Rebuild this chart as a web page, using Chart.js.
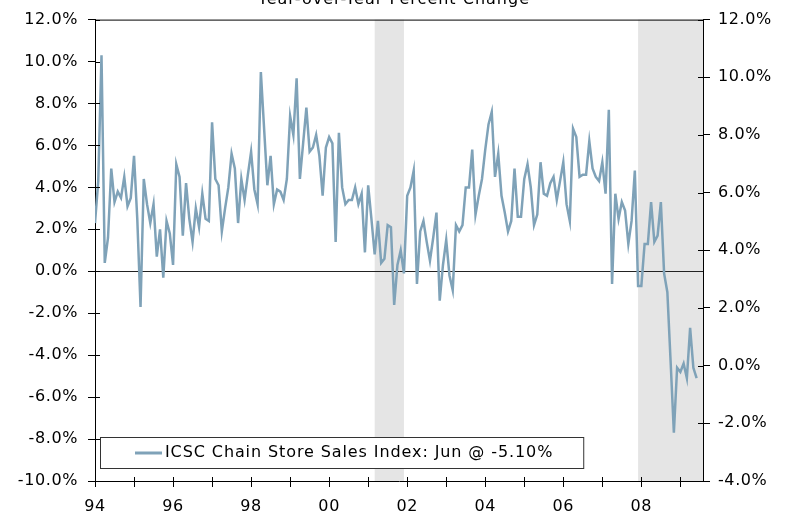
<!DOCTYPE html>
<html>
<head>
<meta charset="utf-8">
<script src="https://cdn.jsdelivr.net/npm/chart.js@4.4.0/dist/chart.umd.min.js"></script>
<style>
  html, body { margin: 0; padding: 0; background: #fff; }
</style>
</head>
<body>
<canvas id="icscChart" width="788" height="515"></canvas>
<script>
// monthly data, Jan 1994 .. Jun 2009
var startYear = 1994;
var chartTitle = "Year-over-Year Percent Change";
var seriesLabel = "ICSC Chain Store Sales Index: Jun @ -5.10%";

var yoyChange = [
  2.3, 4.3, 10.3, 0.4, 1.6, 4.9, 3.3, 3.8, 3.5, 4.5, 3.1, 3.5,     // 94
  5.5, 2.5, -1.7, 4.4, 3.2, 2.3, 3.2, 0.7, 2.0, -0.3, 2.4, 1.8,    // 95
  0.3, 5.1, 4.5, 1.7, 4.2, 2.5, 1.4, 3.0, 2.1, 3.7, 2.5, 2.4,      // 96
  7.1, 4.4, 4.1, 1.9, 3.0, 4.0, 5.6, 4.9, 2.3, 4.4, 3.4, 4.6,      // 97
  5.7, 3.9, 3.2, 9.5, 6.8, 4.1, 5.5, 3.2, 3.9, 3.8, 3.4, 4.4,      // 98
  7.4, 6.5, 9.2, 4.4, 6.1, 7.8, 5.7, 5.9, 6.5, 5.5, 3.6, 5.9,      // 99
  6.4, 6.1, 1.4, 6.6, 4.0, 3.2, 3.4, 3.4, 4.0, 3.2, 3.7, 0.9,      // 00
  4.1, 2.5, 0.8, 2.4, 0.4, 0.6, 2.2, 2.1, -1.6, 0.3, 1.0, -0.1,    // 01
  3.6, 4.0, 4.8, -0.6, 1.9, 2.4, 1.4, 0.5, 1.6, 2.8, -1.4, 0.3,    // 02
  1.5, -0.2, -0.9, 2.2, 1.9, 2.2, 4.0, 4.0, 5.8, 2.7, 3.6, 4.4,    // 03
  5.8, 7.0, 7.6, 4.5, 5.6, 3.6, 2.8, 1.9, 2.4, 4.9, 2.6, 2.6,      // 04
  4.4, 5.1, 4.0, 2.2, 2.7, 5.2, 3.7, 3.6, 4.2, 4.5, 3.4, 4.3,      // 05
  5.2, 3.2, 2.4, 6.8, 6.4, 4.5, 4.6, 4.6, 6.2, 4.9, 4.5, 4.3,      // 06
  5.2, 3.7, 7.7, -0.6, 3.7, 2.5, 3.3, 2.9, 1.3, 2.4, 4.8, -0.7,    // 07
  -0.7, 1.3, 1.3, 3.3, 1.4, 1.7, 3.3, -0.1, -1.0, -4.3, -7.7, -4.6, // 08
  -4.8, -4.4, -5.1, -2.7, -4.6, -5.1                               // 09
];

// shaded recessions (start, end) in years
var recessionStart = [2001 + 2 / 12, 2007 + 11 / 12];
var recessionEnd = [2001 + 11 / 12, 2009.58];

var yearLabels = ["94", "96", "98", "00", "02", "04", "06", "08"];
var leftTickMin = -10, leftTickMax = 12;
var rightTickMin = -4, rightTickMax = 12;

var points = yoyChange.map(function (v, i) {
  return { x: startYear + i / 12, y: v };
});

var lineColor = "#7fa2b8";
var fontSpec = { family: "'DejaVu Sans', Verdana, sans-serif", size: 16 };

function pct(v) { return v.toFixed(1) + "%"; }

var extras = {
  id: "extras",
  beforeDraw: function (chart) {
    var c = chart.ctx, a = chart.chartArea, xs = chart.scales.x;
    // widen the text a little, closer to Verdana
    c.letterSpacing = "0.6px";
    c.save();
    c.fillStyle = "#e5e5e5";
    for (var i = 0; i < recessionStart.length; i++) {
      var x0 = xs.getPixelForValue(recessionStart[i]);
      var x1 = Math.min(xs.getPixelForValue(recessionEnd[i]), a.right);
      c.fillRect(x0, a.top, x1 - x0, a.bottom - a.top);
    }
    c.restore();
  },
  afterDraw: function (chart) {
    var c = chart.ctx, a = chart.chartArea;
    c.save();
    c.strokeStyle = "#000";
    c.lineWidth = 1;
    // top frame
    c.beginPath();
    c.moveTo(a.left, a.top + 0.5);
    c.lineTo(a.right, a.top + 0.5);
    c.stroke();
    // inner halves of tick marks
    c.beginPath();
    chart.scales.y.ticks.forEach(function (t) {
      var p = Math.round(chart.scales.y.getPixelForValue(t.value)) + 0.5;
      c.moveTo(a.left, p); c.lineTo(a.left + 5, p);
    });
    chart.scales.y1.ticks.forEach(function (t) {
      var p = Math.round(chart.scales.y1.getPixelForValue(t.value)) + 0.5;
      c.moveTo(a.right - 5, p); c.lineTo(a.right, p);
    });
    chart.scales.x.ticks.forEach(function (t) {
      var p = Math.round(chart.scales.x.getPixelForValue(t.value)) + 0.5;
      c.moveTo(p, a.bottom - 4); c.lineTo(p, a.bottom);
    });
    c.stroke();

    // legend box
    c.font = "16px 'DejaVu Sans', Verdana, sans-serif";
    c.letterSpacing = "0.9px";
    var tw = c.measureText(seriesLabel).width;
    var bx = a.left + 5, by = a.bottom - 44, bh = 31;
    var bw = 65 + tw + 30;
    c.fillStyle = "#fff";
    c.fillRect(bx, by, bw, bh);
    c.strokeStyle = "#333";
    c.strokeRect(bx + 0.5, by + 0.5, bw, bh);
    c.strokeStyle = lineColor;
    c.lineWidth = 3;
    c.beginPath();
    c.moveTo(bx + 35, by + 16); c.lineTo(bx + 62, by + 16);
    c.stroke();
    c.fillStyle = "#000";
    c.textBaseline = "middle";
    c.fillText(seriesLabel, bx + 65, by + 16);

    // title, mostly cut off by the top edge
    c.letterSpacing = "1px";
    c.textAlign = "center";
    c.textBaseline = "alphabetic";
    c.fillText(chartTitle, chart.width / 2, 4);
    c.restore();
  }
};

new Chart(document.getElementById("icscChart"), {
  type: "line",
  data: {
    datasets: [{
      label: seriesLabel,
      data: points,
      borderColor: lineColor,
      borderWidth: 2.5,
      pointRadius: 0,
      tension: 0,
      yAxisID: "y"
    }]
  },
  options: {
    responsive: false,
    animation: false,
    devicePixelRatio: 1,
    layout: { padding: { top: 17 } },
    plugins: { legend: { display: false }, tooltip: { enabled: false } },
    scales: {
      x: {
        type: "linear",
        min: startYear,
        max: 2009.58,
        afterFit: function (s) { s.height = 34; },
        border: { color: "#000" },
        grid: { drawOnChartArea: false, tickLength: 6, tickColor: "#000" },
        ticks: {
          stepSize: 1,
          includeBounds: false,
          autoSkip: false,
          maxRotation: 0,
          padding: 10,
          color: "#000",
          font: fontSpec,
          callback: function (v) {
            var k = Math.round(v) - startYear;
            return k % 2 === 0 ? yearLabels[k / 2] : "";
          }
        }
      },
      y: {
        position: "left",
        min: leftTickMin,
        max: leftTickMax,
        afterFit: function (s) { s.width = 95; },
        border: { color: "#000" },
        grid: {
          color: function (ctx) {
            return ctx.tick && ctx.tick.value === 0 ? "#222" : "rgba(0,0,0,0)";
          },
          tickColor: "#000",
          tickLength: 7
        },
        ticks: { stepSize: 2, padding: 10, color: "#000", font: fontSpec, callback: pct }
      },
      y1: {
        position: "right",
        min: rightTickMin,
        max: rightTickMax,
        afterFit: function (s) { s.width = 85; },
        border: { color: "#000" },
        grid: { drawOnChartArea: false, tickColor: "#000", tickLength: 7 },
        ticks: { stepSize: 2, padding: 8, color: "#000", font: fontSpec, callback: pct }
      }
    }
  },
  plugins: [extras]
});
</script>
</body>
</html>
